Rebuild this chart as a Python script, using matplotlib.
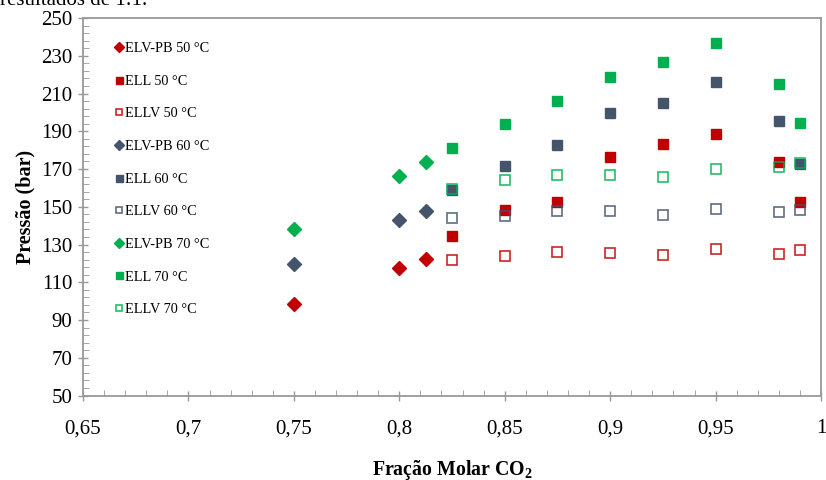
import numpy as np
import matplotlib.pyplot as plt
from matplotlib.ticker import MultipleLocator, FuncFormatter

plt.rcParams['font.family'] = ['Liberation Serif', 'DejaVu Serif']
plt.rcParams['mathtext.fontset'] = 'custom'
plt.rcParams['mathtext.rm'] = 'Liberation Serif'
plt.rcParams['mathtext.bf'] = 'Liberation Serif:bold'

# bubble point data (ELV-PB)
x_pb = [0.75, 0.8, 0.8125]
pb_50 = [98.5, 117.5, 122.5]
pb_60 = [119.5, 143, 147.5]
pb_70 = [138, 166.5, 173.5]

# liquid-liquid and three-phase data
x_ll = [0.825, 0.85, 0.875, 0.9, 0.925, 0.95, 0.98, 0.99]
ell_50 = [134.5, 148.5, 152.5, 176.5, 183.5, 188.5, 173.5, 152.5]
ell_60 = [159, 171.5, 182.5, 199.5, 205, 216, 195.5, 172.5]
ell_70 = [181, 194, 206, 218.5, 226.5, 237, 215, 194.5]
ellv_50 = [122, 124, 126, 125.5, 124.5, 127.5, 125, 127]
ellv_60 = [144, 145, 147.5, 147.5, 145.5, 149, 147, 148.5]
ellv_70 = [159.5, 164, 167, 167, 166, 170, 171, 173]

red = '#C00000'
blue = '#44546A'
green = '#00B050'

fig, ax = plt.subplots(figsize=(8.26, 4.8), dpi=100)
fig.subplots_adjust(left=0.1005, right=0.994, top=0.9625, bottom=0.176)

ms_d = 7.5
ms_s = 7.2
ms_o = 6.5
for temp, col, pb, ell, ellv in [(50, red, pb_50, ell_50, ellv_50),
                                 (60, blue, pb_60, ell_60, ellv_60),
                                 (70, green, pb_70, ell_70, ellv_70)]:
    ax.plot(x_pb, pb, 'D', color=col, markersize=ms_d, label='ELV-PB %d °C' % temp)
    ax.plot(x_ll, ell, 's', color=col, markersize=ms_s, label='ELL %d °C' % temp)
    ax.plot(x_ll, ellv, 's', markerfacecolor='none', markeredgecolor=col, alpha=0.85,
            markeredgewidth=1.2, markersize=ms_o, label='ELLV %d °C' % temp)

ax.set_xlim(0.65, 1.0)
ax.set_ylim(50, 250)
ax.xaxis.set_major_locator(MultipleLocator(0.05))
ax.xaxis.set_minor_locator(MultipleLocator(0.01))
ax.set_yticks(np.arange(50, 251, 20))
ax.set_yticks(np.arange(50, 251, 4), minor=True)
ax.xaxis.set_major_formatter(FuncFormatter(lambda v, p: ('%g' % round(v, 2)).replace('.', ',')))
ax.tick_params(which='major', direction='inout', length=7, width=1, color='#999999',
               labelsize=15, pad=13.5)
ax.tick_params(axis='y', which='major', pad=4)
ax.tick_params(which='minor', direction='in', length=4, color='#999999')
for s in ax.spines.values():
    s.set_color('#999999')
    s.set_linewidth(1.3)

ax.set_ylabel('Pressão (bar)', fontsize=14.5, fontweight='bold', labelpad=4)
ax.set_xlabel('Fração Molar CO$_\\mathbf{2}$', fontsize=14.3, fontweight='bold', labelpad=14)

leg = ax.legend(loc='upper left', bbox_to_anchor=(0.025, 0.97), frameon=False,
                fontsize=10.3, labelspacing=1.37, handlelength=0.6, handletextpad=0.15,
                markerscale=0.7)

fig.text(0.0, 1.018, 'resultados de 1:1.', fontsize=15, ha='left', va='top')

fig.savefig('out.png', dpi=100)
